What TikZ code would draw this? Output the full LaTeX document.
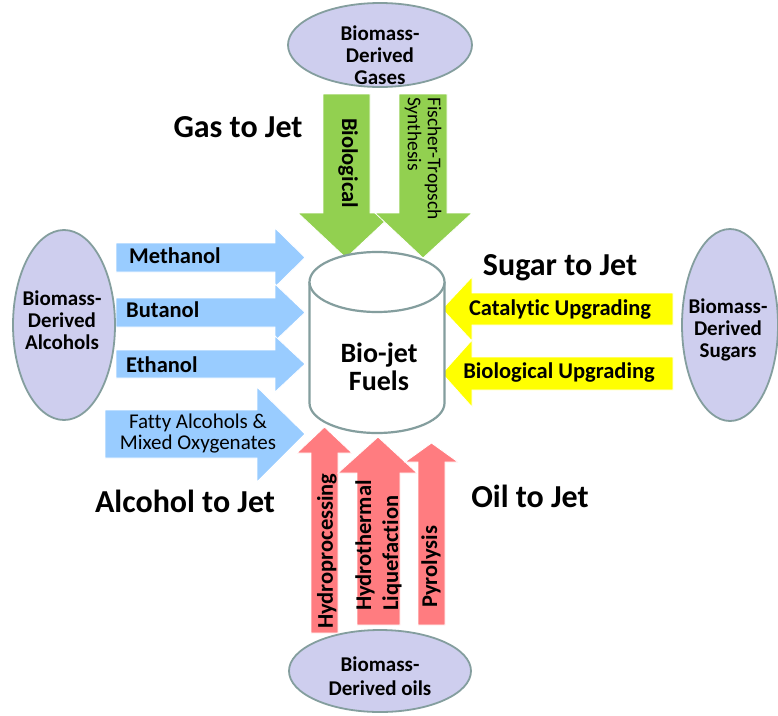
\documentclass[tikz,border=0pt]{standalone}
\usepackage{fontspec}
\setmainfont[Ligatures={NoCommon}]{Carlito}
\usetikzlibrary{shapes.geometric}
\definecolor{blueA}{RGB}{153,204,255}
\definecolor{greenA}{RGB}{146,208,80}
\definecolor{redA}{RGB}{255,124,128}
\definecolor{yellowA}{RGB}{255,255,0}
\definecolor{ellfill}{RGB}{206,206,238}
\definecolor{ellline}{RGB}{132,158,158}
\begin{document}
\begin{tikzpicture}[x=1pt,y=-1pt,
  srcell/.style={ellipse,fill=ellfill,draw=ellline,line width=1.8pt,inner sep=0pt},
  elltext/.style={inner sep=0pt,align=center,font=\fontsize{21}{22}\selectfont\bfseries},
  biglabel/.style={inner sep=0pt,font=\fontsize{32}{34}\selectfont\bfseries},
  arrlabel/.style={inner sep=0pt,font=\fontsize{22.5}{27}\selectfont\bfseries},
  arrlabelthin/.style={inner sep=0pt,align=left,font=\fontsize{21}{21}\selectfont},
  blockarrow/.style={draw=white,line width=0.8pt,line join=miter}]
\useasboundingbox (0,0) rectangle (778,715);
\fill[white] (0,0) rectangle (778,715);

% ---- green arrows (gas to jet)
\fill[greenA,blockarrow] (323,94) -- (370,94) -- (370,213) -- (394,213) -- (346,258) -- (298,213) -- (323,213) -- cycle;
\fill[greenA,blockarrow] (399,94) -- (447,94) -- (447,213) -- (472,213) -- (423,258) -- (375,213) -- (399,213) -- cycle;

% ---- blue arrows (alcohol to jet)
\fill[blueA,blockarrow] (116,243) -- (275,243) -- (275,228) -- (305,257.5) -- (275,287) -- (275,272) -- (116,272) -- cycle;
\fill[blueA,blockarrow] (116,298) -- (275,298) -- (275,284) -- (305,312.5) -- (275,341) -- (275,327) -- (116,327) -- cycle;
\fill[blueA,blockarrow] (116,350) -- (275,350) -- (275,336) -- (305,364) -- (275,392) -- (275,378) -- (116,378) -- cycle;
\fill[blueA,blockarrow] (105,410) -- (257,410) -- (257,387) -- (305,434) -- (257,482) -- (257,458) -- (105,458) -- cycle;

% ---- yellow arrows (sugar to jet)
\fill[yellowA,blockarrow] (673,293) -- (472,293) -- (472,277) -- (442,309) -- (472,341) -- (472,325) -- (673,325) -- cycle;
\fill[yellowA,blockarrow] (673,357) -- (472,357) -- (472,340) -- (442,373.5) -- (472,407) -- (472,390) -- (673,390) -- cycle;

% ---- red arrows (oil to jet)
\fill[redA,blockarrow] (311,633) -- (311,453) -- (297,453) -- (324.5,427) -- (352,453) -- (338,453) -- (338,633) -- cycle;
\fill[redA,blockarrow] (357,625) -- (357,473) -- (338,473) -- (378,437) -- (417,473) -- (400,473) -- (400,625) -- cycle;
\fill[redA,blockarrow] (418,625) -- (418,462) -- (405,462) -- (431.5,443) -- (458,462) -- (445,462) -- (445,625) -- cycle;

% ---- cylinder
\draw[ellline,line width=2.2pt,fill=white] (309.5,282) -- (309.5,403)
  arc[start angle=180,end angle=0,x radius=67.5,y radius=30] -- (444.5,282);
\draw[ellline,line width=2.2pt,fill=white] (377,282) ellipse[x radius=67.5,y radius=30];
\node[inner sep=0pt,align=center,font=\fontsize{28}{28}\selectfont\bfseries] (fuel) at (379,367) {Bio-jet\\Fuels};

% ---- source ellipses
\node[srcell,minimum width=184pt,minimum height=84pt] (gas) at (380,45) {};
\node[elltext] (gastxt) at (380,55) {Biomass-\\Derived\\Gases};
\node[srcell,minimum width=102pt,minimum height=190pt] (alc) at (64,325) {};
\node[elltext] (alctxt) at (62,320) {Biomass-\\Derived\\Alcohols};
\node[srcell,minimum width=96pt,minimum height=192pt] (sug) at (730,325) {};
\node[elltext] (sugtxt) at (728,330) {Biomass-\\Derived\\Sugars};
\node[srcell,minimum width=182pt,minimum height=82pt] (oil) at (380,671) {};
\node[elltext,font=\fontsize{21}{24}\selectfont\bfseries] (oiltxt) at (380,676) {Biomass-\\Derived oils};

% ---- arrow labels
\node[arrlabel,rotate=-90] (lbio) at (348,163) {Biological};
\node[arrlabelthin,rotate=-90,anchor=west,font=\fontsize{19.5}{20}\selectfont] (lft) at (423,97) {Fischer-Tropsch\\Synthesis};
\node[arrlabel,anchor=west] (lmeth) at (129,256) {Methanol};
\node[arrlabel,anchor=west] (lbut) at (126,310) {Butanol};
\node[arrlabel,anchor=west] (leth) at (126,365) {Ethanol};
\node[arrlabelthin,align=center] (lfat) at (198,434) {Fatty Alcohols \&\\Mixed Oxygenates};
\node[arrlabel] (lcat) at (560,310) {Catalytic Upgrading};
\node[arrlabel] (lbup) at (559,373) {Biological Upgrading};
\node[arrlabel,rotate=90,anchor=west] (lhyd) at (327,629) {Hydroprocessing};
\node[arrlabel,rotate=90,anchor=west,align=left] (lhtl) at (378.5,611) {Hydrothermal\\Liquefaction};
\node[arrlabel,rotate=90,anchor=west] (lpyr) at (431,608) {Pyrolysis};

% ---- pathway titles
\node[biglabel] (tgas) at (238,127) {Gas to Jet};
\node[biglabel] (tsug) at (560,268) {Sugar to Jet};
\node[biglabel] (talc) at (185,501) {Alcohol to Jet};
\node[biglabel] (toil) at (530,496) {Oil to Jet};
\end{tikzpicture}
\end{document}
